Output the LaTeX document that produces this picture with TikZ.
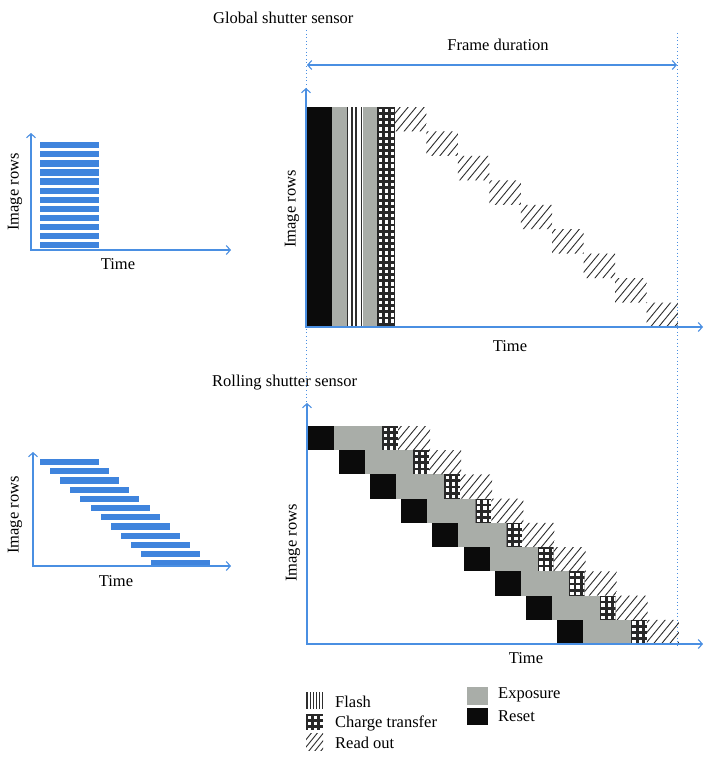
\documentclass[tikz,border=0pt]{standalone}
\usepackage{fontspec}
\setmainfont{Liberation Serif}
\usetikzlibrary{arrows.meta}
\definecolor{axblue}{HTML}{4A8FE2}
\definecolor{barblue}{HTML}{3F84DD}
\definecolor{expgray}{HTML}{A9ADA8}
\definecolor{rstblack}{HTML}{0B0B0B}
\definecolor{hatchc}{HTML}{2E2E2E}
\tikzset{
  axisline/.style={draw=axblue, line width=1.1pt, {Straight Barb[length=4pt,width=9pt]}-{Straight Barb[length=4pt,width=9pt]}},
  guide/.style={draw=axblue, line width=0.9pt, dash pattern=on 1pt off 2.6pt},
  lbl/.style={font=\fontsize{16.5}{18}\selectfont, inner sep=0pt},
  hatchline/.style={draw=hatchc, line width=0.9pt},
  flashline/.style={draw=hatchc, line width=1.2pt},
  expbox/.style={fill=expgray},
  rstbox/.style={fill=rstblack},
  barbox/.style={fill=barblue}
}
% charge transfer block: x1 y1 x2 y2 nrows
\newcommand\chgblk[5]{%
  \begin{scope}
    \clip (#1,#2) rectangle (#3,#4);
    \fill[rstblack!88] (#1,#2) rectangle (#3,#4);
    \foreach \ci in {0,...,2}{\foreach \cj in {0,...,#5}{%
      \fill[white] ({#1+1.6+6.2*\ci},{#2+1.6+6.2*\cj}) rectangle ++(3.4,3.4);}}
  \end{scope}}
\begin{document}
\begin{tikzpicture}[x=1pt,y=-1pt]
\useasboundingbox (0,0) rectangle (713,758);
\fill[white] (0,0) rectangle (713,758);

% ---------- small global diagram ----------
\foreach \i in {0,...,11} \fill[barbox] (40,{142+9.1*\i}) rectangle ++(59,6.3);
\coordinate (s1y) at (31,133); \coordinate (s1o) at (31,250); \coordinate (s1x) at (231,250);
\draw[axisline] (s1y) -- (s1o) -- (s1x);
\node[lbl, rotate=90] (s1rows) at (15,192) {Image rows};
\node[lbl] (s1time) at (118,264) {Time};

% ---------- small rolling diagram ----------
\foreach \i in {0,...,11} \fill[barbox] ({40+10.1*\i},{459+9.2*\i}) rectangle ++(59,6.2);
\coordinate (s2y) at (33,452); \coordinate (s2o) at (33,566); \coordinate (s2x) at (231,566);
\draw[axisline] (s2y) -- (s2o) -- (s2x);
\node[lbl, rotate=90] (s2rows) at (15,515) {Image rows};
\node[lbl] (s2time) at (116,581) {Time};

% ---------- titles & frame duration ----------
\node[lbl, anchor=west] (gtitle) at (213,18) {Global shutter sensor};
\node[lbl, anchor=west] (rtitle) at (212,383) {Rolling shutter sensor};
\coordinate (gl1) at (306,30); \coordinate (gl2) at (306,405);
\coordinate (gr1) at (677,33); \coordinate (gr2) at (677,648);
\draw[guide] (gl1) -- (gl2);
\draw[guide] (gr1) -- (gr2);
\coordinate (fdl) at (307,65); \coordinate (fdr) at (677,65);
\draw[axisline] (fdl) -- (fdr);
\node[lbl] (fd) at (498,45) {Frame duration};

% ---------- global main ----------
\fill[rstbox] (306,107) rectangle (332,327);
\fill[expbox] (332,107) rectangle (347,327);
\fill[expbox] (363,107) rectangle (377,327);
\foreach \lx in {347.8,352,356,361.2} \draw[flashline] (\lx,107) -- (\lx,327);
\chgblk{377}{107}{395}{327}{36}
\begin{scope}
  \clip \foreach \i in {0,...,8} { ({395+31.44*\i},{107+24.44*\i}) rectangle ++(31.44,24.44) };
  \foreach \k in {0,...,66} \draw[hatchline] ({160+8*\k},330) -- ++(190,-230);
\end{scope}
\coordinate (gy) at (306,88); \coordinate (go) at (306,327); \coordinate (gx) at (703,327);
\draw[axisline] (gy) -- (go) -- (gx);
\node[lbl, rotate=90] (grows) at (292,209) {Image rows};
\node[lbl] (gtime) at (510,346) {Time};

% ---------- rolling main ----------
\foreach \i in {0,...,8} {
  \fill[rstbox] ({308+31.1*\i},{426+24.22*\i}) rectangle ++(26,24.22);
  \fill[expbox] ({334+31.1*\i},{426+24.22*\i}) rectangle ++(48,24.22);
  \chgblk{382+31.1*\i}{426+24.22*\i}{398+31.1*\i}{450.22+24.22*\i}{3}
}
\begin{scope}
  \clip \foreach \i in {0,...,8} { ({398+31.1*\i},{426+24.22*\i}) rectangle ++(32,24.22) };
  \foreach \k in {0,...,66} \draw[hatchline] ({170+8*\k},648) -- ++(190,-230);
\end{scope}
\coordinate (ry) at (307,403); \coordinate (ro) at (307,644); \coordinate (rx) at (703,644);
\draw[axisline] (ry) -- (ro) -- (rx);
\node[lbl, rotate=90] (rrows) at (293,543) {Image rows};
\node[lbl] (rtime) at (526,658) {Time};

% ---------- legend ----------
\foreach \k in {0,...,5} \draw[flashline] ({307+3.1*\k},692) -- ({307+3.1*\k},709);
\chgblk{306}{714}{323}{730}{3}
\begin{scope}
  \clip (306,733) rectangle (323,750);
  \foreach \k in {0,...,6} \draw[hatchline] ({290+6*\k},752) -- ++(17,-21);
\end{scope}
\node[lbl, anchor=west] (lflash) at (335,702) {Flash};
\node[lbl, anchor=west] (lcharge) at (335,723) {Charge transfer};
\node[lbl, anchor=west] (lread) at (335,743) {Read out};
\fill[expbox] (467,687) rectangle (488,705);
\fill[rstbox] (467,708) rectangle (488,725);
\node[lbl, anchor=west] (lexp) at (498,695) {Exposure};
\node[lbl, anchor=west] (lrst) at (498,716) {Reset};
\end{tikzpicture}
\end{document}
